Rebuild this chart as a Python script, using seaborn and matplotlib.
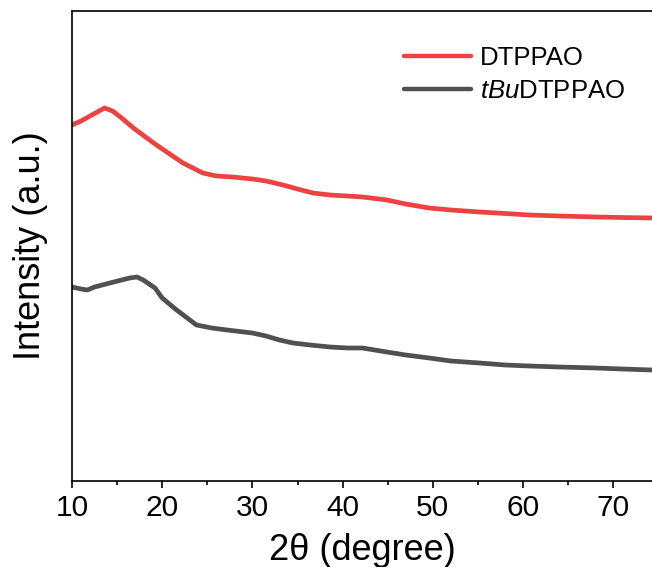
import matplotlib
matplotlib.use("Agg")
import matplotlib.pyplot as plt
from matplotlib.ticker import MultipleLocator
import seaborn as sns
import pandas as pd

# XRD patterns (intensity in arbitrary units, offset traces)
two_theta_a = [10, 11, 12, 13, 13.6, 14.5, 15.5, 16.8, 18, 19.2, 20.5, 22.3, 24.5, 26,
               27.8, 30, 31.5, 33.4, 35, 36.7, 38.6, 40.5, 42.2, 44.9, 47, 49.6, 52,
               55.2, 58, 60.7, 64, 68.1, 71, 74.3]
intensity_a = [356, 360, 365, 370, 373, 370, 363, 353, 345, 337, 329, 318, 308, 305,
               304, 302, 300, 296, 292, 288, 286, 285, 284, 281, 277, 273, 271,
               269, 267.5, 266, 265, 264, 263.5, 263]

two_theta_b = [10, 11, 11.7, 12.5, 14.2, 15.5, 16.4, 17.2, 17.9, 19.2, 20, 21.6, 23.8,
               25.5, 27.2, 30, 31.5, 33, 34.5, 36.4, 38.6, 40.5, 42.2, 44.9, 47, 49.6,
               52, 55.2, 58, 60.7, 64, 68.1, 71, 74.3]
intensity_b = [194, 192, 191, 194, 198, 201, 203, 204, 201, 193, 183, 171, 156,
               153, 151, 148, 145, 141, 138, 136, 134, 133, 133, 129, 126, 123,
               120, 118, 116, 115, 114, 113, 112, 111]

names = ["DTPPAO", "$\\it{tBu}$DTPPAO"]
colors = ["#EE4242", "#505050"]

df = pd.concat([
    pd.DataFrame({"x": two_theta_a, "y": intensity_a, "sample": names[0]}),
    pd.DataFrame({"x": two_theta_b, "y": intensity_b, "sample": names[1]}),
])

sns.set_style("ticks")
plt.rcParams["font.family"] = ["Liberation Sans", "DejaVu Sans"]
plt.rcParams["mathtext.fontset"] = "custom"
plt.rcParams["mathtext.rm"] = "Liberation Sans"
plt.rcParams["mathtext.it"] = "Liberation Sans:italic"
plt.rcParams["text.color"] = "black"
plt.rcParams["axes.labelcolor"] = "black"
plt.rcParams["xtick.color"] = "black"
plt.rcParams["ytick.color"] = "black"

fig = plt.figure(figsize=(6.52, 5.67), dpi=100)
ax = fig.add_axes([72 / 652, 86 / 567, 1 - 72 / 652, 470 / 567])

sns.lineplot(data=df, x="x", y="y", hue="sample", palette=colors,
             linewidth=3.4, ax=ax, sort=False)

ax.set_xlim(10, 74.3)
ax.set_ylim(0, 470)
ax.xaxis.set_major_locator(MultipleLocator(10))
ax.xaxis.set_minor_locator(MultipleLocator(5))
ax.set_yticks([])
ax.tick_params(axis="x", which="major", direction="out", length=5, width=1.2,
               labelsize=21.5, pad=4, colors="black")
ax.tick_params(axis="x", which="minor", direction="out", length=3, width=1.2)
for side in ["left", "bottom", "top"]:
    ax.spines[side].set_linewidth(1.2)
    ax.spines[side].set_color("black")
ax.spines["right"].set_visible(False)

ax.set_xlabel("2θ (degree)", fontsize=26, labelpad=8)
ax.set_ylabel("Intensity (a.u.)", fontsize=26, labelpad=17)

leg = ax.legend(loc="upper right", bbox_to_anchor=(0.972, 0.948), frameon=False,
                fontsize=18.5, handlelength=2.6, handletextpad=0.35,
                labelspacing=0.35, borderaxespad=0)
for line in leg.get_lines():
    line.set_linewidth(3.2)

fig.savefig("out.png", dpi=100)
